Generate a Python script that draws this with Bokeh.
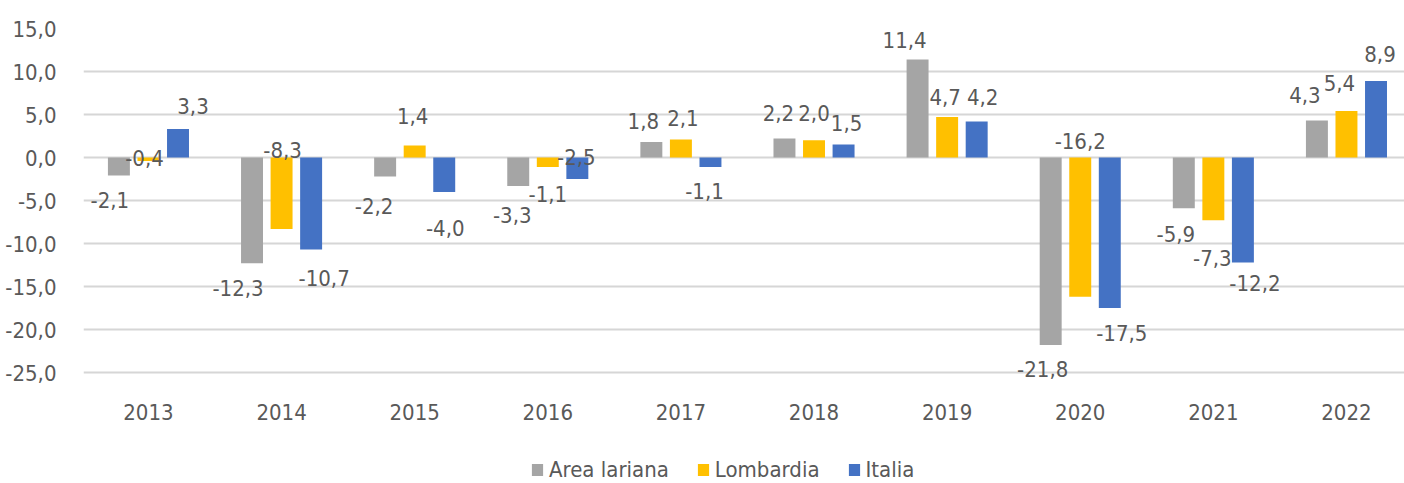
from bokeh.plotting import figure
from bokeh.models import ColumnDataSource, Range1d, FixedTicker, Legend, LegendItem
from bokeh.transform import dodge
from bokeh.core.properties import value
from bokeh.embed import file_html
from bokeh.resources import INLINE

# ---------------- data ----------------
years = ["2013", "2014", "2015", "2016", "2017", "2018", "2019", "2020", "2021", "2022"]
area_lariana = [-2.1, -12.3, -2.2, -3.3, 1.8, 2.2, 11.4, -21.8, -5.9, 4.3]
lombardia = [-0.4, -8.3, 1.4, -1.1, 2.1, 2.0, 4.7, -16.2, -7.3, 5.4]
italia = [3.3, -10.7, -4.0, -2.5, -1.1, 1.5, 4.2, -17.5, -12.2, 8.9]
series_names = ["Area lariana", "Lombardia", "Italia"]
y_ticks = [-25, -20, -15, -10, -5, 0, 5, 10, 15]
y_tick_labels = ["-25,0", "-20,0", "-15,0", "-10,0", "-5,0", "0,0", "5,0", "10,0", "15,0"]

# ---------------- label nudges (screen px: dx right, dy down) ----------------
gray_dx = [-9, -14, -11, -6, -8, -6, -13, -8, -8, -12]
gray_dy = [24, 25, 30, 29, -21, -26, -19, 24, 26, -26]
yel_dx = [-4, 1, -2, 0, 2, 0, -2, 0, -1, -7]
yel_dy = [-3, -79, -29, 27, -21, -27, -20, -156, 38, -28]
blue_dx = [15, 13, 1, -1, -6, 3, 6, 12, 12, 4]
blue_dy = [-23, 28, 36, -22, 24, -22, -24, 25, 21, -27]

colors = ["#a5a5a5", "#ffc000", "#4472c4"]
FONT = "DejaVu Sans Condensed, DejaVu Sans, sans-serif"
FS = "22px"
TXT = "#595959"

idx = list(range(len(years)))


def fmt(v):
    return f"{v:.1f}".replace(".", ",")


W, H = 1404, 483
TOP, LEFT = 28, 83
PX_PER_UNIT = 8.6
p = figure(width=W, height=H, output_backend="svg", toolbar_location=None,
           x_range=Range1d(-0.488, 9.436),
           y_range=Range1d(15 - (H - TOP) / PX_PER_UNIT, 15),
           min_border_left=LEFT, min_border_right=0, min_border_top=TOP, min_border_bottom=0)
p.outline_line_color = None
p.background_fill_color = "white"
p.border_fill_color = "white"

bar_w = 0.165
offs = [-0.222, 0.0, 0.222]
all_vals = [area_lariana, lombardia, italia]
all_dx = [gray_dx, yel_dx, blue_dx]
all_dy = [gray_dy, yel_dy, blue_dy]

renderers = []
for k in range(3):
    src = ColumnDataSource(dict(x=idx, v=all_vals[k],
                                lbl=[fmt(v) for v in all_vals[k]],
                                dx=all_dx[k], dy=all_dy[k]))
    r = p.vbar(x=dodge("x", offs[k], range=p.x_range), top="v", bottom=0, width=bar_w,
               source=src, fill_color=colors[k], line_color=None)
    renderers.append(r)
    p.text(x=dodge("x", offs[k], range=p.x_range), y="v", text="lbl", source=src,
           x_offset="dx", y_offset="dy", text_align="center", text_baseline="middle",
           text_font=value(FONT), text_font_size=FS, text_color=TXT)

# axes
p.yaxis.ticker = FixedTicker(ticks=y_ticks)
p.yaxis.major_label_overrides = {t: l for t, l in zip(y_ticks, y_tick_labels)}
p.xaxis.ticker = FixedTicker(ticks=idx)
p.xaxis.major_label_overrides = {i: y for i, y in zip(idx, years)}
p.xaxis.fixed_location = min(y_ticks)
for ax in (p.xaxis, p.yaxis):
    ax.axis_line_color = None
    ax.major_tick_line_color = None
    ax.minor_tick_line_color = None
    ax.major_label_text_font = FONT
    ax.major_label_text_font_size = FS
    ax.major_label_text_color = TXT
p.yaxis.major_label_standoff = 21
p.xaxis.major_label_standoff = 25

p.xgrid.grid_line_color = None
p.ygrid.ticker = FixedTicker(ticks=y_ticks)
p.ygrid.grid_line_color = "#d6d6d6"
p.ygrid.grid_line_width = 2

legend = Legend(items=[LegendItem(label=n, renderers=[r]) for n, r in zip(series_names, renderers)],
                orientation="horizontal", location=(447, 1),
                glyph_width=14, glyph_height=15, label_standoff=5, spacing=27,
                padding=0, margin=0, border_line_color=None, background_fill_alpha=0,
                label_text_font=FONT, label_text_font_size=FS, label_text_color=TXT)
p.add_layout(legend, "center")

open("out.html", "w").write(file_html(p, INLINE))
